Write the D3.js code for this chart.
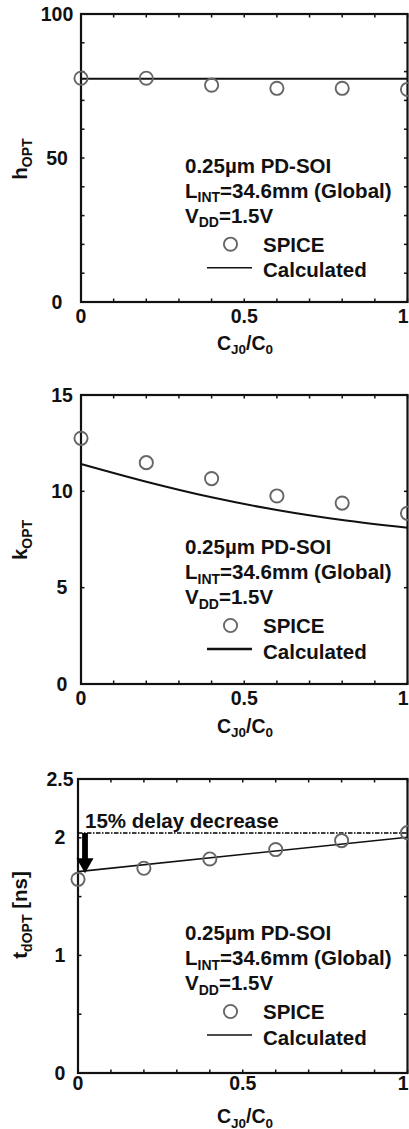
<!DOCTYPE html>
<html>
<head>
<meta charset="utf-8">
<script src="https://cdn.jsdelivr.net/npm/d3@7"></script>
<style>
  html, body { margin: 0; padding: 0; background: #fff; }
  svg { display: block; }
  text { font-family: Arial, "Liberation Sans", Helvetica, sans-serif; font-weight: bold; fill: #111; }
</style>
</head>
<body>
<svg id="chart" width="409" height="1129"></svg>
<script>
// Junction capacitance ratio C_J0/C_0 (shared x values)
const cjRatio = [0, 0.2, 0.4, 0.6, 0.8, 1.0];
const calcEnds = [0, 1.0];

// h_OPT: SPICE points and calculated (flat) curve
const hSpice = [77.7, 77.7, 75.3, 74.2, 74.2, 73.8];
const hCalc = [77.5, 77.5];

// k_OPT: SPICE points and calculated curve
const kSpice = [12.75, 11.49, 10.66, 9.76, 9.39, 8.86];
const kCalc = [11.42, 10.5, 9.69, 9.03, 8.51, 8.11];

// t_dOPT [ns]: SPICE points and calculated line
const tSpice = [1.647, 1.741, 1.82, 1.90, 1.976, 2.044];
const tCalc = [1.712, 2.005];
const delayRef = 2.04;

// Tick values / labels
const xMinorTicks = d3.range(0, 1.0001, 0.1);
const xTickLabels = [[0, "0"], [0.5, "0.5"], [1, "1"]];
const hTicks = d3.range(0, 100.1, 10);
const hTickLabels = [[0, "0"], [50, "50"], [100, "100"]];
const kTicks = [0, 5, 10, 15];
const kTickLabels = [[0, "0"], [5, "5"], [10, "10"], [15, "15"]];
const tTicks = [0, 0.5, 1, 1.5, 2, 2.5];
const tTickLabels = [[0, "0"], [1, "1"], [2, "2"], [2.5, "2.5"]];

const infoLines = [
  [["0.25µm PD-SOI"]],
  [["L"], ["INT", 1], ["=34.6mm (Global)"]],
  [["V"], ["DD", 1], ["=1.5V"]]
];

const svg = d3.select("#chart");
const RIGHT = 407.5;

// Write text made of normal and subscript runs
function richText(el, parts, mainSize, subSize, shift) {
  el.attr("font-size", mainSize);
  let down = false;
  parts.forEach(p => {
    const t = el.append("tspan").text(p[0]);
    if (p[1] && !down) { t.attr("dy", shift).attr("font-size", subSize); down = true; }
    else if (p[1]) { t.attr("font-size", subSize); }
    else if (down) { t.attr("dy", -shift); down = false; }
  });
  return el;
}

function panel(cfg) {
  const g = svg.append("g");
  const x = d3.scaleLinear().domain([0, 1]).range([cfg.left, RIGHT]);
  const y = d3.scaleLinear().domain(cfg.yDomain).range([cfg.bottom, cfg.top]);

  // inward ticks, bottom/top
  const tickLen = 3.5;
  xMinorTicks.forEach(v => {
    g.append("line").attr("x1", x(v)).attr("x2", x(v))
      .attr("y1", cfg.bottom).attr("y2", cfg.bottom - tickLen)
      .attr("stroke", "#111").attr("stroke-width", 1.5);
    g.append("line").attr("x1", x(v)).attr("x2", x(v))
      .attr("y1", cfg.top).attr("y2", cfg.top + tickLen)
      .attr("stroke", "#111").attr("stroke-width", 1.5);
  });
  // inward ticks, left/right
  cfg.yTicks.forEach(v => {
    g.append("line").attr("x1", cfg.left).attr("x2", cfg.left + tickLen)
      .attr("y1", y(v)).attr("y2", y(v))
      .attr("stroke", "#111").attr("stroke-width", 1.5);
    g.append("line").attr("x1", RIGHT).attr("x2", RIGHT - tickLen)
      .attr("y1", y(v)).attr("y2", y(v))
      .attr("stroke", "#111").attr("stroke-width", 1.5);
  });

  // frame
  g.append("rect").attr("x", cfg.left).attr("y", cfg.top)
    .attr("width", RIGHT - cfg.left).attr("height", cfg.bottom - cfg.top)
    .attr("fill", "none").attr("stroke", "#111").attr("stroke-width", 2.2);

  // tick labels (the last x label is kept inside the page edge)
  g.selectAll(".xl").data(xTickLabels).join("text")
    .attr("x", d => d[0] === 1 ? 408.5 : x(d[0])).attr("y", cfg.bottom + cfg.xLabelGap)
    .attr("text-anchor", d => d[0] === 1 ? "end" : "middle")
    .attr("font-size", 19.5).text(d => d[1]);
  g.selectAll(".yl").data(cfg.yTickLabels).join("text")
    .attr("x", cfg.yLabelX).attr("y", d => y(d[0]) + 6.5)
    .attr("text-anchor", "middle").attr("font-size", 19.5).text(d => d[1]);

  // axis titles
  richText(g.append("text").attr("x", 245).attr("y", cfg.xTitleY).attr("text-anchor", "middle"),
    [["C"], ["J0", 1], ["/C"], ["0", 1]], 19.5, 13.5, 4.5);
  richText(g.append("text")
      .attr("transform", `translate(27,${cfg.yTitleY}) rotate(-90)`)
      .attr("text-anchor", "middle"),
    cfg.yTitle, 20.5, 14, 5);

  // extra decorations (drawn before data)
  if (cfg.extra) cfg.extra(g, x, y);

  // calculated curve
  const line = d3.line().x(d => x(d[0])).y(d => y(d[1]))
    .curve(cfg.calc.length > 2 ? d3.curveMonotoneX : d3.curveLinear);
  g.append("path").datum(d3.zip(cfg.calcX, cfg.calc))
    .attr("d", line).attr("fill", "none")
    .attr("stroke", "#111").attr("stroke-width", cfg.lineW);

  // SPICE points
  g.selectAll(".pt").data(d3.zip(cjRatio, cfg.spice)).join("circle")
    .attr("cx", d => x(d[0])).attr("cy", d => y(d[1])).attr("r", 6.6)
    .attr("fill", "none").attr("stroke", "#666").attr("stroke-width", 1.9);

  // info block and legend
  const b = cfg.infoY;
  infoLines.forEach((parts, i) => {
    richText(g.append("text").attr("x", 185).attr("y", b + i * 25), parts, 20.5, 14, 4.5);
  });
  g.append("circle").attr("cx", 230.5).attr("cy", b + 71.5).attr("r", 6.6)
    .attr("fill", "none").attr("stroke", "#666").attr("stroke-width", 1.9);
  g.append("text").attr("x", 263).attr("y", b + 79).attr("font-size", 20.5).text("SPICE");
  g.append("line").attr("x1", 207).attr("x2", 252)
    .attr("y1", b + 95).attr("y2", b + 95)
    .attr("stroke", "#111").attr("stroke-width", cfg.legendW);
  g.append("text").attr("x", 263).attr("y", b + 104.5).attr("font-size", 20.5).text("Calculated");
}

panel({
  left: 81, top: 14, bottom: 302, yDomain: [0, 100],
  yTicks: hTicks, yTickLabels: hTickLabels, yLabelX: 57, xLabelGap: 21,
  xTitleY: 349.5, yTitleY: 159, yTitle: [["h"], ["OPT", 1]],
  spice: hSpice, calc: hCalc, calcX: calcEnds, lineW: 2, legendW: 1.6,
  infoY: 172.7
});

panel({
  left: 81, top: 395, bottom: 684, yDomain: [0, 15],
  yTicks: kTicks, yTickLabels: kTickLabels, yLabelX: 62, xLabelGap: 21,
  xTitleY: 732.5, yTitleY: 540, yTitle: [["k"], ["OPT", 1]],
  spice: kSpice, calc: kCalc, calcX: cjRatio, lineW: 2, legendW: 2.6,
  infoY: 554
});

panel({
  left: 78, top: 779, bottom: 1073, yDomain: [0, 2.5],
  yTicks: tTicks, yTickLabels: tTickLabels, yLabelX: 60, xLabelGap: 17,
  xTitleY: 1123, yTitleY: 915, yTitle: [["t"], ["dOPT", 1], [" [ns]"]],
  spice: tSpice, calc: tCalc, calcX: calcEnds, lineW: 1.6, legendW: 1.6,
  infoY: 940,
  extra: (g, x, y) => {
    // reference level and delay-decrease arrow
    g.append("line").attr("x1", x(0)).attr("x2", x(1))
      .attr("y1", y(delayRef)).attr("y2", y(delayRef))
      .attr("stroke", "#000").attr("stroke-width", 1.5)
      .attr("stroke-dasharray", "4.5,1.5,1.5,1.5");
    g.append("text").attr("x", 85).attr("y", 828).attr("font-size", 20.5)
      .text("15% delay decrease");
    const ax = x(0) + 7, y0 = y(delayRef), yTip = y(tCalc[0]) + 1.5, yHead = yTip - 15;
    g.append("path")
      .attr("d", `M${ax - 2.9},${y0} L${ax + 2.9},${y0} L${ax + 2.9},${yHead} L${ax + 8.5},${yHead} L${ax},${yTip} L${ax - 8.5},${yHead} L${ax - 2.9},${yHead} Z`)
      .attr("fill", "#000");
  }
});
</script>
</body>
</html>
